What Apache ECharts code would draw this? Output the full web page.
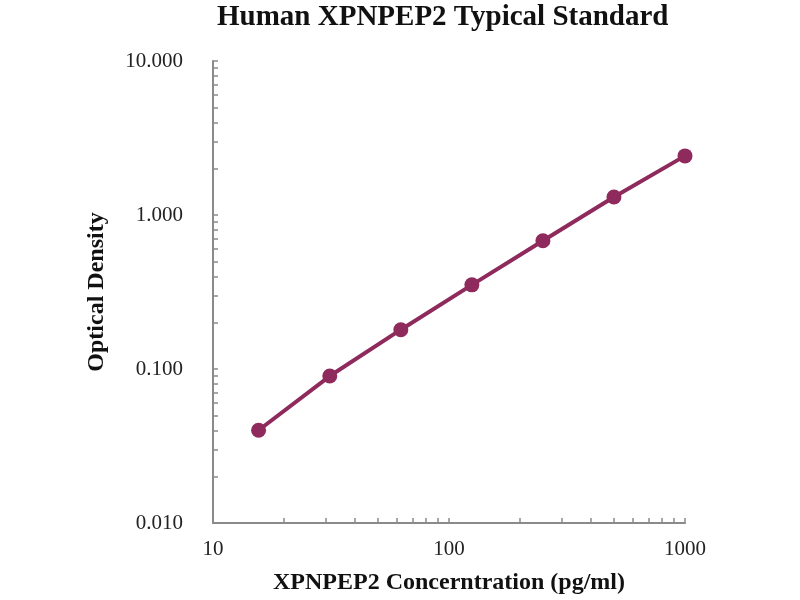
<!DOCTYPE html>
<html>
<head>
<meta charset="utf-8">
<script src="https://cdn.jsdelivr.net/npm/echarts@6/dist/echarts.min.js"></script>
<style>
    html, body { margin: 0; padding: 0; background: #fff; }
    #main { width: 800px; height: 600px; }
</style>
</head>
<body>
<div id="main"></div>
<script>
    // standard curve points
    var concentration = [15.6, 31.25, 62.5, 125, 250, 500, 1000];
    var opticalDensity = [0.040, 0.090, 0.180, 0.352, 0.680, 1.310, 2.420];

    // tick positions (log decades + minor ticks)
    var xTicks = [10, 20, 30, 40, 50, 60, 70, 80, 90, 100, 200, 300, 400, 500, 600, 700, 800, 900, 1000];
    var yTicks = [0.01, 0.02, 0.03, 0.04, 0.05, 0.06, 0.07, 0.08, 0.09,
                  0.1, 0.2, 0.3, 0.4, 0.5, 0.6, 0.7, 0.8, 0.9,
                  1, 2, 3, 4, 5, 6, 7, 8, 9, 10];
    var xLabels = [10, 100, 1000];
    var yLabels = [0.01, 0.1, 1, 10];

    var points = concentration.map(function (c, i) { return [c, opticalDensity[i]]; });

    var serif = 'Liberation Serif, Times New Roman, serif';
    var myChart = echarts.init(document.getElementById('main'));
    var option = {
        animation: false,
        title: {
            text: 'Human XPNPEP2 Typical Standard',
            left: 212,
            top: -2,
            textStyle: { fontFamily: serif, fontSize: 29, fontWeight: 'bold', color: '#111' }
        },
        grid: { left: 213, right: 115, top: 61, bottom: 73 },
        xAxis: {
            type: 'log',
            min: 10,
            max: 1000,
            name: 'XPNPEP2 Concerntration (pg/ml)',
            nameLocation: 'middle',
            nameGap: 48,
            nameTextStyle: { fontFamily: serif, fontSize: 24, fontWeight: 'bold', color: '#111' },
            axisLine: { lineStyle: { color: '#8a8a8a', width: 2 } },
            axisTick: { inside: true, length: 5, customValues: xTicks, lineStyle: { color: '#8a8a8a', width: 1.5 } },
            axisLabel: {
                customValues: xLabels,
                margin: 16,
                fontFamily: serif,
                fontSize: 21,
                color: '#222',
                formatter: function (v) { return String(Math.round(v)); }
            },
            splitLine: { show: false }
        },
        yAxis: {
            type: 'log',
            min: 0.01,
            max: 10,
            name: 'Optical Density',
            nameLocation: 'middle',
            nameGap: 104,
            nameTextStyle: { fontFamily: serif, fontSize: 24, fontWeight: 'bold', color: '#111' },
            axisLine: { lineStyle: { color: '#8a8a8a', width: 2 } },
            axisTick: { inside: true, length: 5, customValues: yTicks, lineStyle: { color: '#8a8a8a', width: 1.5 } },
            axisLabel: {
                customValues: yLabels,
                margin: 30,
                fontFamily: serif,
                fontSize: 21,
                color: '#222',
                formatter: function (v) { return Number(v).toFixed(3); }
            },
            splitLine: { show: false }
        },
        series: [
            {
                type: 'line',
                data: points,
                symbol: 'circle',
                symbolSize: 15,
                lineStyle: { color: '#8e2b5c', width: 4 },
                itemStyle: { color: '#8e2b5c' }
            }
        ]
    };
    myChart.setOption(option);
</script>
</body>
</html>
